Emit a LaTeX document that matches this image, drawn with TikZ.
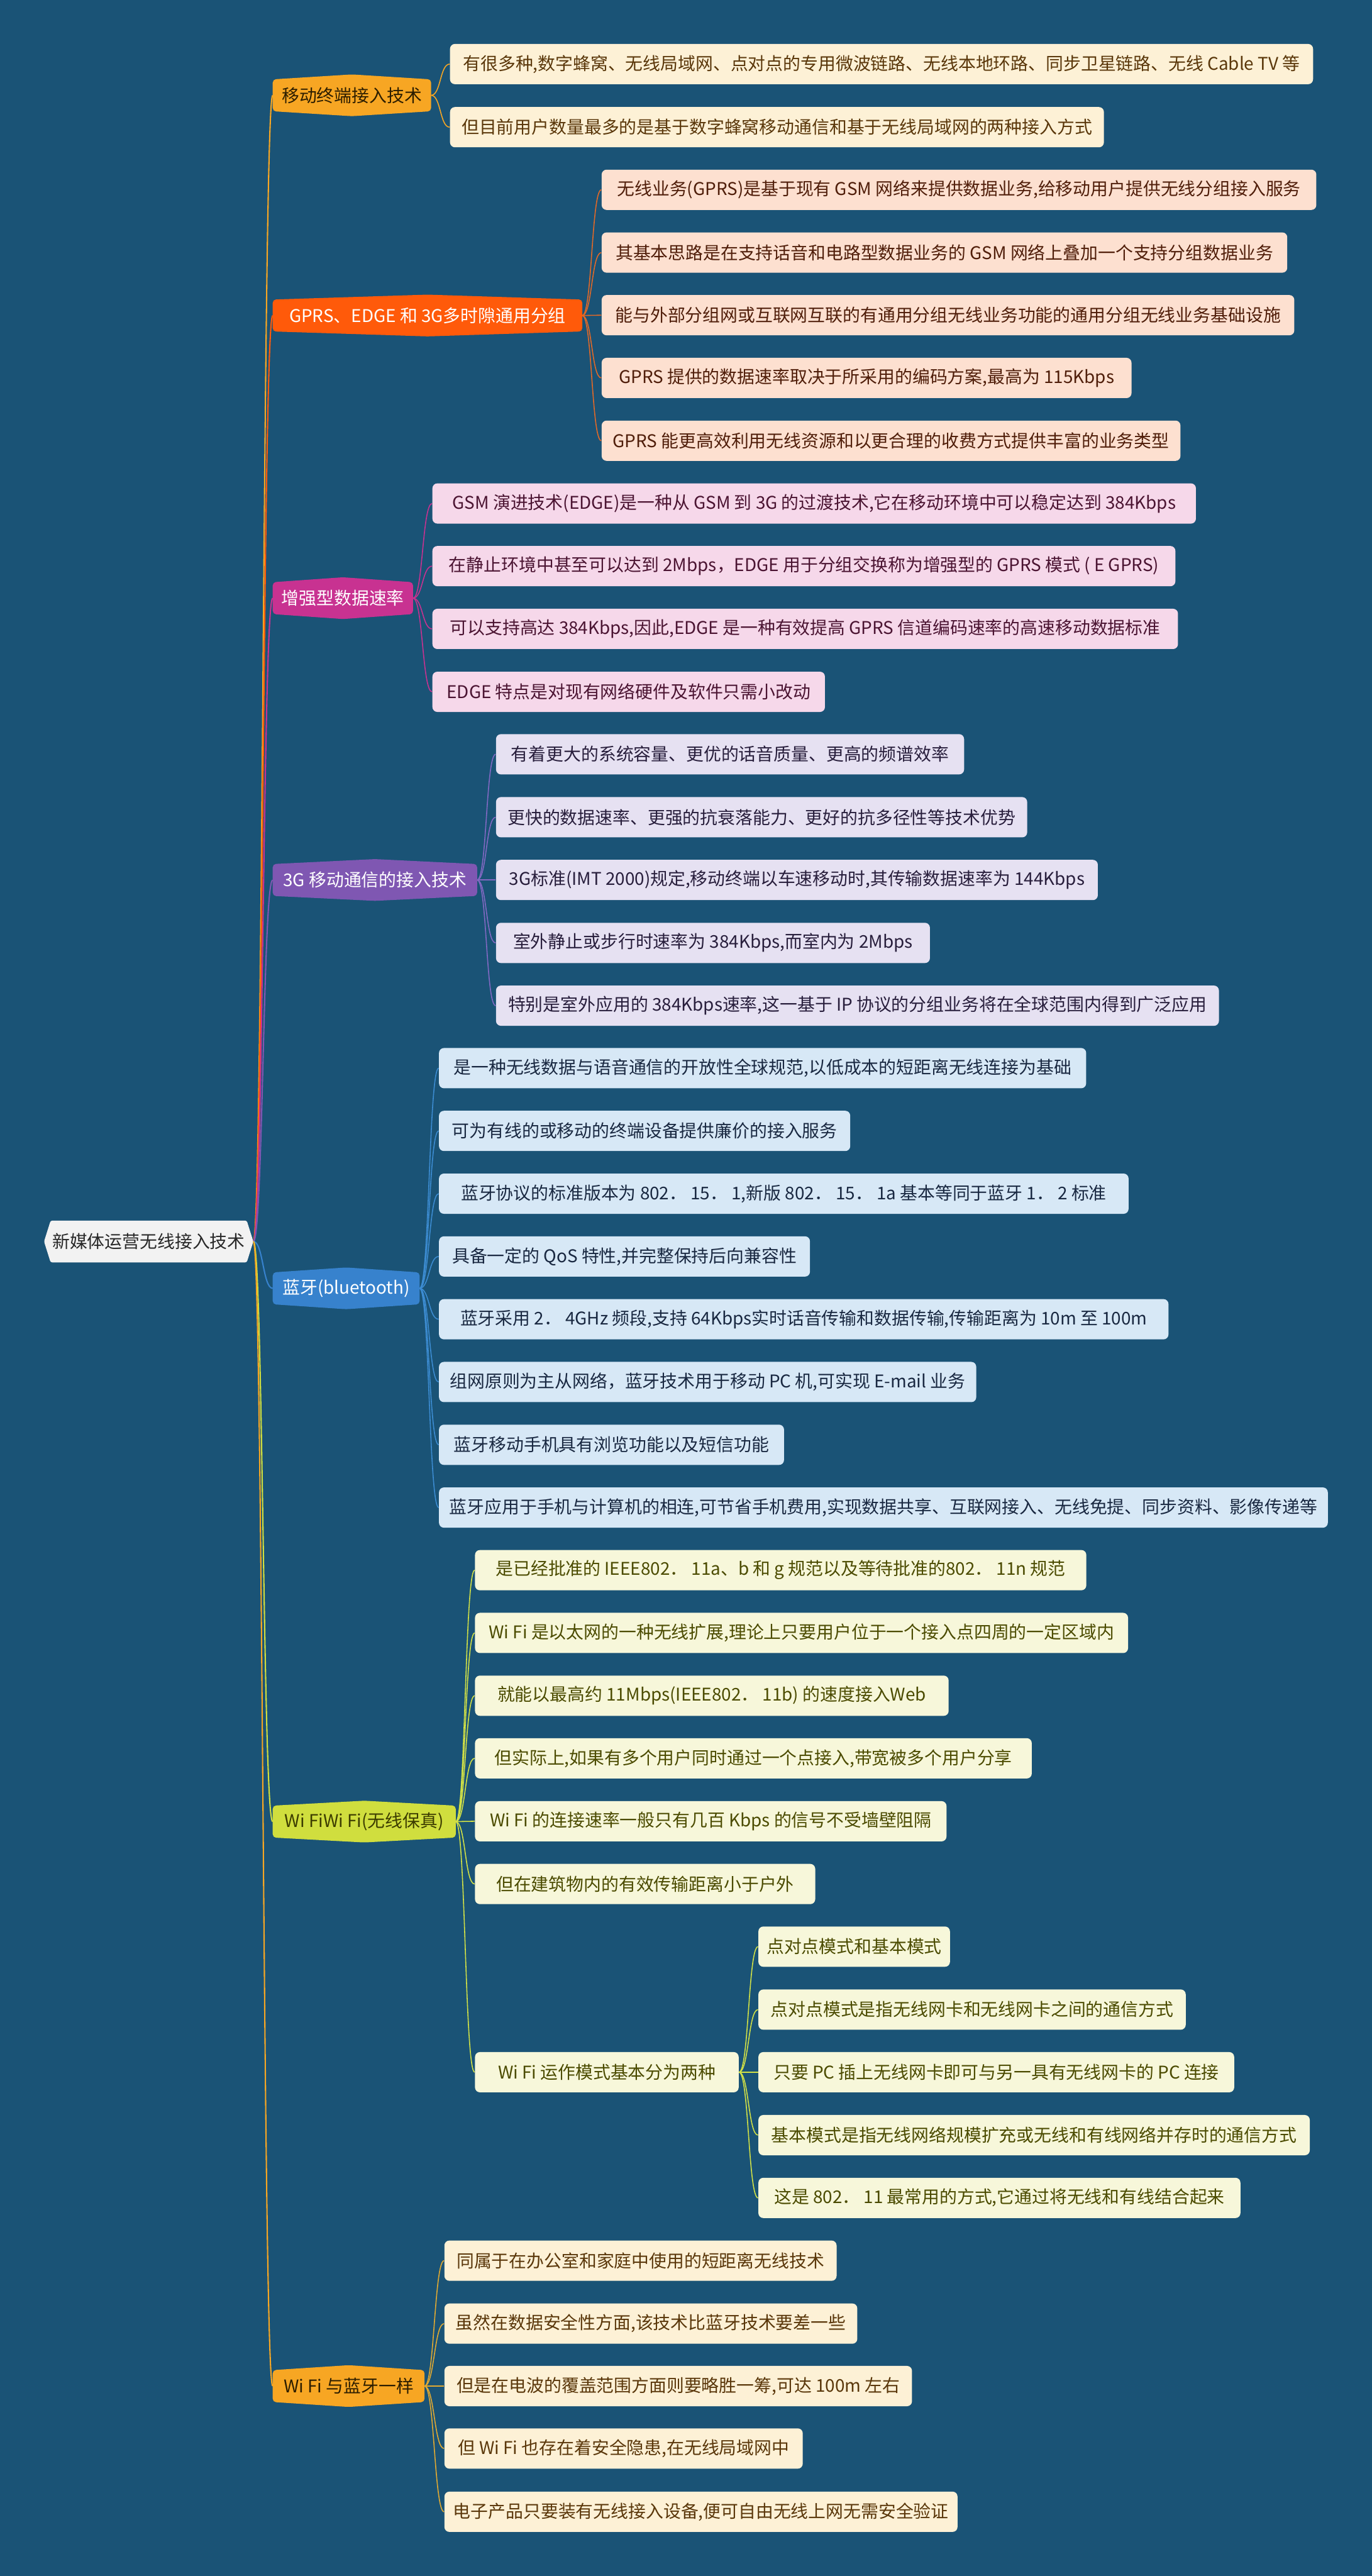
\documentclass[tikz,border=0pt]{standalone}
\usepackage{fontspec}
\setmainfont{Noto Sans CJK SC}
\pgfdeclarelayer{bglayer}
\pgfdeclarelayer{links}
\pgfdeclarelayer{shapes}
\pgfsetlayers{bglayer,links,shapes,main}
\definecolor{bgc}{RGB}{26,83,118}
\definecolor{rootf}{RGB}{242,242,242}
\definecolor{roott}{RGB}{40,40,40}
\definecolor{cA}{RGB}{247,166,35}
\definecolor{cAt}{RGB}{45,30,0}
\definecolor{cB}{RGB}{255,90,10}
\definecolor{cC}{RGB}{200,50,145}
\definecolor{cD}{RGB}{127,87,178}
\definecolor{cE}{RGB}{55,130,205}
\definecolor{cF}{RGB}{208,222,62}
\definecolor{cFt}{RGB}{60,60,0}
\definecolor{fA}{RGB}{253,241,214}
\definecolor{tA}{RGB}{90,55,10}
\definecolor{fB}{RGB}{253,224,208}
\definecolor{tB}{RGB}{80,30,10}
\definecolor{fC}{RGB}{246,216,234}
\definecolor{tC}{RGB}{75,20,50}
\definecolor{fD}{RGB}{230,225,242}
\definecolor{tD}{RGB}{40,30,60}
\definecolor{fE}{RGB}{215,232,246}
\definecolor{tE}{RGB}{25,40,65}
\definecolor{fF}{RGB}{247,247,218}
\definecolor{tF}{RGB}{75,75,0}
\definecolor{lB}{RGB}{225,105,40}
\definecolor{lD}{RGB}{130,105,195}
\definecolor{lE}{RGB}{60,140,210}
\definecolor{lF}{RGB}{210,225,70}
\definecolor{lG}{RGB}{225,170,50}
\newcommand\hexshape[2]{\fill[#2, rounded corners=2] (#1.north west) -- ([yshift=3]#1.north) -- (#1.north east) -- (#1.south east) -- ([yshift=-3]#1.south) -- (#1.south west) -- cycle;}
\begin{document}
\begin{tikzpicture}[x=1pt,y=-1pt,
  every node/.style={font=\fontsize{10.66}{12}\selectfont, inner sep=0pt},
  leaf/.style={rounded corners=3, minimum height=24.5, anchor=west, align=center},
  mainn/.style={minimum height=19, anchor=west},
  mlink/.style={line width=0.8},
  llink/.style={line width=0.6},
  A/.style={leaf, fill=fA, text=tA},
  B/.style={leaf, fill=fB, text=tB},
  C/.style={leaf, fill=fC, text=tC},
  D/.style={leaf, fill=fD, text=tD},
  E/.style={leaf, fill=fE, text=tE},
  F/.style={leaf, fill=fF, text=tF},
  G/.style={leaf, fill=fA, text=tA}
]
\useasboundingbox (0,0) rectangle (835,1567.6);
\begin{pgfonlayer}{bglayer}
\fill[bgc] (0,0) rectangle (835,1567.6);
\end{pgfonlayer}

% root
\node[minimum width=119, minimum height=25, text=roott] (root) at (90.5,755.5) {新媒体运营无线接入技术};
\coordinate (rtip) at ([xshift=4]root.east);

% main nodes
\node[mainn, minimum width=96, text=cAt] (m1) at (166,58) {移动终端接入技术};
\node[mainn, minimum width=188, text=white] (m2) at (166,192) {GPRS、EDGE 和 3G多时隙通用分组};
\node[mainn, minimum width=85, text=white] (m3) at (166,364) {增强型数据速率};
\node[mainn, minimum width=124, text=white] (m4) at (166,535.5) {3G 移动通信的接入技术};
\node[mainn, minimum width=89, text=white] (m5) at (166,784) {蓝牙(bluetooth)};
\node[mainn, minimum width=111, text=cFt] (m6) at (166,1108.5) {Wi FiWi Fi(无线保真)};
\node[mainn, minimum width=92, text=cAt] (m7) at (166,1452) {Wi Fi 与蓝牙一样};

% group 1
\node[A, minimum width=525.3] (a1) at (273.7,39) {有很多种,数字蜂窝、无线局域网、点对点的专用微波链路、无线本地环路、同步卫星链路、无线 Cable TV 等};
\node[A, minimum width=398] (a2) at (273.7,77.4) {但目前用户数量最多的是基于数字蜂窝移动通信和基于无线局域网的两种接入方式};

% group 2
\node[B, minimum width=435] (b1) at (366,115.5) {无线业务(GPRS)是基于现有 GSM 网络来提供数据业务,给移动用户提供无线分组接入服务};
\node[B, minimum width=417.3] (b2) at (366,153.7) {其基本思路是在支持话音和电路型数据业务的 GSM 网络上叠加一个支持分组数据业务};
\node[B, minimum width=421.6] (b3) at (366,191.8) {能与外部分组网或互联网互联的有通用分组无线业务功能的通用分组无线业务基础设施};
\node[B, minimum width=322.5] (b4) at (366,230) {GPRS 提供的数据速率取决于所采用的编码方案,最高为 115Kbps};
\node[B, minimum width=352.3] (b5) at (366,268.2) {GPRS 能更高效利用无线资源和以更合理的收费方式提供丰富的业务类型};

% group 3
\node[C, minimum width=464.7] (c1) at (263,306.4) {GSM 演进技术(EDGE)是一种从 GSM 到 3G 的过渡技术,它在移动环境中可以稳定达到 384Kbps};
\node[C, minimum width=452.2] (c2) at (263,344.5) {在静止环境中甚至可以达到 2Mbps，EDGE 用于分组交换称为增强型的 GPRS 模式 ( E GPRS)};
\node[C, minimum width=453.8] (c3) at (263,382.7) {可以支持高达 384Kbps,因此,EDGE 是一种有效提高 GPRS 信道编码速率的高速移动数据标准};
\node[C, minimum width=238.9] (c4) at (263,421) {EDGE 特点是对现有网络硬件及软件只需小改动};

% group 4
\node[D, minimum width=284.9] (d1) at (301.7,459) {有着更大的系统容量、更优的话音质量、更高的频谱效率};
\node[D, minimum width=323.3] (d2) at (301.7,497.3) {更快的数据速率、更强的抗衰落能力、更好的抗多径性等技术优势};
\node[D, minimum width=366.3] (d3) at (301.7,535.5) {3G标准(IMT 2000)规定,移动终端以车速移动时,其传输数据速率为 144Kbps};
\node[D, minimum width=264.1] (d4) at (301.7,573.8) {室外静止或步行时速率为 384Kbps,而室内为 2Mbps};
\node[D, minimum width=440] (d5) at (301.7,612) {特别是室外应用的 384Kbps速率,这一基于 IP 协议的分组业务将在全球范围内得到广泛应用};

% group 5
\node[E, minimum width=393.9] (e1) at (267,650) {是一种无线数据与语音通信的开放性全球规范,以低成本的短距离无线连接为基础};
\node[E, minimum width=250.3] (e2) at (267,688.2) {可为有线的或移动的终端设备提供廉价的接入服务};
\node[E, minimum width=419.7] (e3) at (267,726.4) {蓝牙协议的标准版本为 802． 15． 1,新版 802． 15． 1a 基本等同于蓝牙 1． 2 标准};
\node[E, minimum width=225.8] (e4) at (267,764.6) {具备一定的 QoS 特性,并完整保持后向兼容性};
\node[E, minimum width=444] (e5) at (267,802.8) {蓝牙采用 2． 4GHz 频段,支持 64Kbps实时话音传输和数据传输,传输距离为 10m 至 100m};
\node[E, minimum width=327] (e6) at (267,841) {组网原则为主从网络，蓝牙技术用于移动 PC 机,可实现 E-mail 业务};
\node[E, minimum width=210] (e7) at (267,879.2) {蓝牙移动手机具有浏览功能以及短信功能};
\node[E, minimum width=541] (e8) at (267,917.4) {蓝牙应用于手机与计算机的相连,可节省手机费用,实现数据共享、互联网接入、无线免提、同步资料、影像传递等};

% group 6
\node[F, minimum width=372.1] (f1) at (288.9,955.5) {是已经批准的 IEEE802． 11a、b 和 g 规范以及等待批准的802． 11n 规范};
\node[F, minimum width=397.5] (f2) at (288.9,993.7) {Wi Fi 是以太网的一种无线扩展,理论上只要用户位于一个接入点四周的一定区域内};
\node[F, minimum width=288.3] (f3) at (288.9,1031.9) {就能以最高约 11Mbps(IEEE802． 11b) 的速度接入Web};
\node[F, minimum width=338.9] (f4) at (288.9,1070) {但实际上,如果有多个用户同时通过一个点接入,带宽被多个用户分享};
\node[F, minimum width=287] (f5) at (288.9,1108.3) {Wi Fi 的连接速率一般只有几百 Kbps 的信号不受墙壁阻隔};
\node[F, minimum width=207.1] (f6) at (288.9,1146.5) {但在建筑物内的有效传输距离小于户外};
\node[F, minimum width=160.5] (f7) at (288.9,1261) {Wi Fi 运作模式基本分为两种};
\node[F, minimum width=116.6] (s1) at (461.4,1184.6) {点对点模式和基本模式};
\node[F, minimum width=260.1] (s2) at (461.4,1222.9) {点对点模式是指无线网卡和无线网卡之间的通信方式};
\node[F, minimum width=289.6] (s3) at (461.4,1261) {只要 PC 插上无线网卡即可与另一具有无线网卡的 PC 连接};
\node[F, minimum width=335.6] (s4) at (461.4,1299.3) {基本模式是指无线网络规模扩充或无线和有线网络并存时的通信方式};
\node[F, minimum width=293.4] (s5) at (461.4,1337.5) {这是 802． 11 最常用的方式,它通过将无线和有线结合起来};

% group 7
\node[G, minimum width=238.7] (g1) at (270.3,1375.7) {同属于在办公室和家庭中使用的短距离无线技术};
\node[G, minimum width=251.3] (g2) at (270.3,1414) {虽然在数据安全性方面,该技术比蓝牙技术要差一些};
\node[G, minimum width=284.6] (g3) at (270.3,1452) {但是在电波的覆盖范围方面则要略胜一筹,可达 100m 左右};
\node[G, minimum width=218.1] (g4) at (270.3,1490) {但 Wi Fi 也存在着安全隐患,在无线局域网中};
\node[G, minimum width=312.3] (g5) at (270.3,1528.5) {电子产品只要装有无线接入设备,便可自由无线上网无需安全验证};

% shapes
\begin{pgfonlayer}{shapes}
\fill[rootf, rounded corners=1] (root.north west) -- (root.north east) -- (rtip) -- (root.south east) -- (root.south west) -- ([xshift=-4]root.west) -- cycle;
\hexshape{m1}{cA}
\hexshape{m2}{cB}
\hexshape{m3}{cC}
\hexshape{m4}{cD}
\hexshape{m5}{cE}
\hexshape{m6}{cF}
\hexshape{m7}{cA}
\end{pgfonlayer}

% links
\begin{pgfonlayer}{links}
\draw[mlink, cA] (rtip) .. controls +(6,0) and +(-6,0) .. (m1.west);
\draw[mlink, cB] (rtip) .. controls +(6,0) and +(-6,0) .. (m2.west);
\draw[mlink, cC] (rtip) .. controls +(6,0) and +(-6,0) .. (m3.west);
\draw[mlink, cD] (rtip) .. controls +(6,0) and +(-6,0) .. (m4.west);
\draw[mlink, cE] (rtip) .. controls +(6,0) and +(-6,0) .. (m5.west);
\draw[mlink, cF] (rtip) .. controls +(6,0) and +(-6,0) .. (m6.west);
\draw[mlink, cA] (rtip) .. controls +(6,0) and +(-6,0) .. (m7.west);
\foreach \t in {a1,a2} \draw[llink, cA] (m1.east) .. controls +(6,0) and +(-6,0) .. (\t.west);
\foreach \t in {b1,b2,b3,b4,b5} \draw[llink, lB] (m2.east) .. controls +(6,0) and +(-6,0) .. (\t.west);
\foreach \t in {c1,c2,c3,c4} \draw[llink, cC] (m3.east) .. controls +(6,0) and +(-6,0) .. (\t.west);
\foreach \t in {d1,d2,d3,d4,d5} \draw[llink, lD] (m4.east) .. controls +(6,0) and +(-6,0) .. (\t.west);
\foreach \t in {e1,e2,e3,e4,e5,e6,e7,e8} \draw[llink, lE] (m5.east) .. controls +(6,0) and +(-6,0) .. (\t.west);
\foreach \t in {f1,f2,f3,f4,f5,f6,f7} \draw[llink, lF] (m6.east) .. controls +(6,0) and +(-6,0) .. (\t.west);
\foreach \t in {s1,s2,s3,s4,s5} \draw[llink, lF] (f7.east) .. controls +(6,0) and +(-6,0) .. (\t.west);
\foreach \t in {g1,g2,g3,g4,g5} \draw[llink, lG] (m7.east) .. controls +(6,0) and +(-6,0) .. (\t.west);
\end{pgfonlayer}
\end{tikzpicture}
\end{document}
